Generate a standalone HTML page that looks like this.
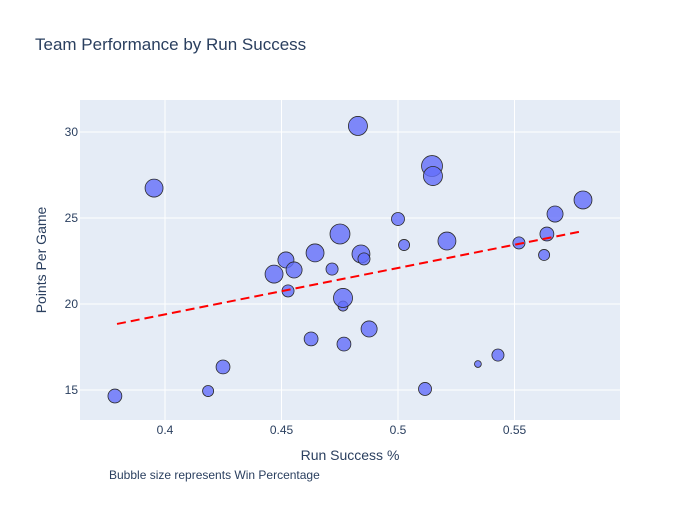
<!DOCTYPE html>
<html><head><meta charset="utf-8"><style>
body{margin:0;background:#fff;font-family:"Liberation Sans",Arial,sans-serif}
svg text{font-family:"Liberation Sans",Arial,sans-serif;fill:#2a3f5f}
</style></head><body>
<svg id="chart" width="700" height="500" xmlns="http://www.w3.org/2000/svg">
<rect width="700" height="500" fill="#fff"/>
<text x="35" y="50" font-size="17">Team Performance by Run Success</text>
<rect x="80" y="100" width="540" height="320" fill="#e5ecf6"/>
<g id="grid"></g><g id="marks"></g><g id="ticks"></g>
<text x="350" y="460" font-size="14" text-anchor="middle">Run Success %</text>
<text transform="translate(46,260) rotate(-90)" font-size="14" text-anchor="middle">Points Per Game</text>
<text x="109" y="479" font-size="12">Bubble size represents Win Percentage</text>
</svg>
<script>
const runSuccess=[0.3785,0.3953,0.4185,0.4249,0.4468,0.4519,0.4528,0.4554,0.4627,0.4644,0.4717,0.4751,0.4764,0.4764,0.4768,0.4841,0.4854,0.4828,0.4876,0.5,0.5026,0.5116,0.5146,0.5150,0.5210,0.5343,0.5429,0.5519,0.5627,0.5639,0.5674,0.5794];
const pointsPerGame=[14.65,26.74,14.94,16.34,21.74,22.56,20.76,21.98,17.97,22.97,22.03,24.07,19.88,20.35,17.67,22.91,22.62,30.35,18.55,24.94,23.43,15.06,28.02,27.44,23.66,16.51,17.03,23.55,22.85,24.07,25.23,26.05];
const winPct=[0.33,0.55,0.21,0.33,0.55,0.44,0.25,0.44,0.33,0.55,0.25,0.68,0.17,0.62,0.33,0.55,0.25,0.62,0.44,0.29,0.21,0.29,0.75,0.62,0.55,0.08,0.25,0.25,0.21,0.33,0.44,0.55];
const trendX=[0.3794,0.5794];
const trendY=[18.84,24.24];
const xTicks=[0.4,0.45,0.5,0.55];
const xTickLabels=["0.4","0.45","0.5","0.55"];
const yTicks=[15,20,25,30];
const yTickLabels=["15","20","25","30"];
const NS="http://www.w3.org/2000/svg";
const xs=v=>165+(v-0.4)*2330;
const ys=v=>132+(30-v)*17.2;
const rs=w=>12.1*Math.sqrt(w);
function mk(t,a,p){const e=document.createElementNS(NS,t);for(const k in a)e.setAttribute(k,a[k]);document.getElementById(p).appendChild(e);return e;}
xTicks.forEach((v,i)=>{
 const l=mk('line',{x1:xs(v),x2:xs(v),y1:100,y2:420,stroke:'#fff','stroke-width':1},'grid');
 
 
 const t=mk('text',{x:xs(v),y:434,'font-size':12,'text-anchor':'middle'},'ticks');t.textContent=xTickLabels[i];
 
 
});
yTicks.forEach((v,i)=>{
 const l=mk('line',{x1:80,x2:620,y1:ys(v),y2:ys(v),stroke:'#fff','stroke-width':1},'grid');
 
 
 const t=mk('text',{x:78,y:ys(v)+4,'font-size':12,'text-anchor':'end'},'ticks');t.textContent=yTickLabels[i];
 
 
});
runSuccess.forEach((v,i)=>{
 const c=mk('circle',{cx:xs(v),cy:ys(pointsPerGame[i]),r:rs(winPct[i]),fill:'#636efa','fill-opacity':0.8,stroke:'#2a2a2a','stroke-width':0.8},'marks');
 
 
});
const tl=mk('line',{x1:xs(trendX[0]),y1:ys(trendY[0]),x2:xs(trendX[1]),y2:ys(trendY[1]),stroke:'red','stroke-width':2,'stroke-dasharray':'9,5'},'marks');


</script>
</body></html>
